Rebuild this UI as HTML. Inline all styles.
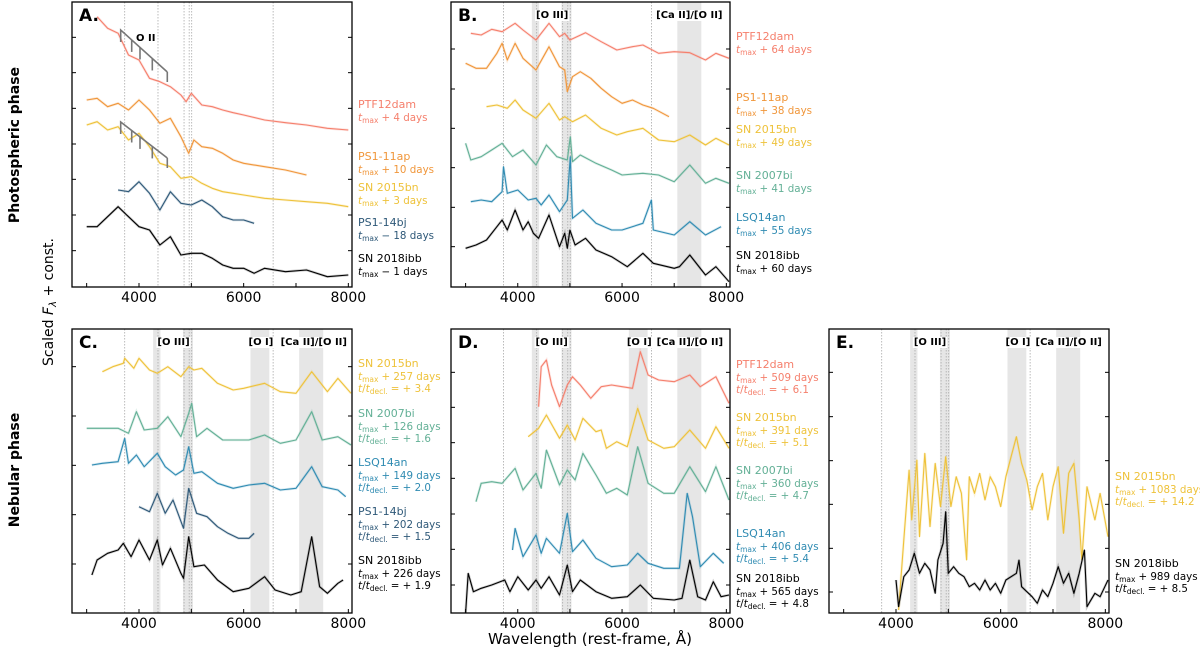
<!DOCTYPE html>
<html><head><meta charset="utf-8">
<style>
html,body{margin:0;padding:0;background:#fff;}
svg{display:block;font-family:"DejaVu Sans","Liberation Sans",sans-serif;}
</style></head>
<body>
<svg id="fig" width="1200" height="653" viewBox="0 0 1200 653" xmlns="http://www.w3.org/2000/svg">
<text transform="translate(19,145) rotate(-90)" text-anchor="middle" font-size="14" font-weight="bold">Photospheric phase</text>
<text transform="translate(19,470) rotate(-90)" text-anchor="middle" font-size="14" font-weight="bold">Nebular phase</text>
<text transform="translate(53,302) rotate(-90)" text-anchor="middle" font-size="14">Scaled <tspan font-style="italic">F</tspan><tspan font-size="10" dy="3" font-style="italic">λ</tspan><tspan dy="-3"> + const.</tspan></text>
<text x="590" y="644" text-anchor="middle" font-size="15">Wavelength (rest-frame, Å)</text>
<g id="plots"></g>
</svg>
<script>
// ---- data: wavelengths (Å) and scaled flux (arbitrary units) ----
const xTicks=[3000,4000,5000,6000,7000,8000];
const xTickLabels=[4000,6000,8000];
const lineWaves=[3727,4363,4861,4959,5007,6563];
const bandsB=[[4270,4410],[4840,5030],[7060,7520]];
const bandsNeb=[[4270,4410],[4840,5030],[6130,6490],[7060,7520]];
const yTicksA=[7.49,6.43,5.36,4.29,3.23,2.16,1.09];
const yTicksB=[7.14,5.94,4.76,3.58,2.39,1.21];
const yTicksC=[7.39,5.91,4.43,2.95,1.47];
const yTicksD=[7.22,6.17,5.11,4.04,2.97,1.91,0.84];
const yTicksE=[7.22,5.89,4.57,3.26,1.94,0.63];

const A_ptf_lam=[3200,3400,3600,3800,4000,4200,4400,4600,4800,4900,5000,5200,5400,5600,5800,6000,6400,6800,7200,7600,8000];
const A_ptf_flux=[8.11,7.76,7.61,6.96,6.81,6.26,6.16,6.01,5.76,5.56,5.81,5.46,5.41,5.31,5.23,5.16,5.01,4.93,4.86,4.76,4.71];
const A_11ap_lam=[3000,3200,3400,3600,3800,4000,4200,4400,4600,4800,4950,5050,5200,5400,5600,5800,6000,6400,6800,7200];
const A_11ap_flux=[5.61,5.66,5.41,5.51,5.31,5.61,5.31,4.91,5.06,4.51,4.01,4.41,4.21,4.16,4.01,3.81,3.71,3.61,3.51,3.36];
const A_15bn_lam=[3000,3200,3400,3600,3800,4000,4200,4400,4600,4800,5000,5200,5400,5600,5800,6000,6400,6800,7200,7600,8000];
const A_15bn_flux=[4.86,4.96,4.71,4.81,4.41,4.61,4.21,3.71,3.61,3.26,3.31,3.11,2.96,2.86,2.81,2.76,2.66,2.61,2.56,2.51,2.41];
const A_14bj_lam=[3600,3800,4000,4200,4400,4600,4800,5000,5200,5400,5600,5800,6000,6200];
const A_14bj_flux=[2.91,2.86,3.16,2.81,2.31,2.86,2.51,2.46,2.61,2.41,2.11,2.01,2.01,1.91];
const A_18ibb_lam=[3000,3200,3400,3600,3800,4000,4200,4400,4600,4800,5000,5200,5400,5600,5800,6000,6200,6400,6800,7200,7600,8000];
const A_18ibb_flux=[1.81,1.81,2.11,2.41,2.11,1.81,1.71,1.26,1.51,0.96,1.01,1.01,0.86,0.66,0.56,0.56,0.41,0.56,0.46,0.51,0.31,0.36];

const B_ptf_lam=[3100,3300,3500,3700,3950,4100,4350,4600,4800,4900,5000,5300,5600,5900,6200,6400,6700,7000,7300,7600,7800,8050];
const B_ptf_flux=[7.61,7.56,7.73,7.66,7.91,7.71,7.41,7.91,7.51,7.61,7.41,7.63,7.36,7.11,7.21,7.26,7.01,7.06,7.03,6.81,7.01,6.86];
const B_11ap_lam=[3000,3200,3400,3600,3700,3800,3950,4100,4350,4600,4800,4900,4950,5050,5200,5400,5600,5800,6000,6200,6400,6600,6900];
const B_11ap_flux=[6.71,6.56,6.56,7.01,7.31,6.81,7.31,6.86,6.51,7.21,6.61,6.51,5.86,6.31,6.46,6.26,5.96,5.71,5.51,5.61,5.46,5.36,5.11];
const B_15bn_lam=[3400,3600,3800,3950,4100,4350,4600,4800,4900,5050,5300,5600,5900,6100,6400,6700,7000,7300,7600,7800,8050];
const B_15bn_flux=[5.41,5.46,5.36,5.61,5.31,5.06,5.51,5.01,5.11,4.96,5.16,4.76,4.56,4.66,4.76,4.41,4.36,4.56,4.26,4.46,4.26];
const B_07bi_lam=[3000,3100,3300,3500,3700,3900,4100,4350,4550,4750,4950,5007,5050,5200,5500,5800,6000,6400,6700,7000,7300,7600,7800,8050];
const B_07bi_flux=[4.31,3.81,3.91,4.11,4.31,3.91,4.11,3.66,4.26,3.91,3.81,4.51,3.76,3.96,3.71,3.51,3.36,3.41,3.36,3.16,3.66,3.11,3.26,3.11];
const B_lsq_lam=[3100,3300,3500,3700,3727,3800,4000,4200,4350,4450,4600,4800,4950,5007,5050,5250,5500,5800,6000,6400,6563,6600,7000,7300,7600,7900];
const B_lsq_flux=[2.56,2.61,2.56,2.86,3.61,2.81,2.91,2.61,2.66,2.46,2.76,2.26,2.61,3.91,2.06,2.31,1.91,1.71,1.71,1.91,2.61,1.71,1.56,1.96,1.56,1.81];
const B_18ibb_lam=[3000,3200,3400,3600,3700,3800,3950,4100,4200,4300,4400,4600,4800,4900,4950,5000,5100,5300,5500,5800,6100,6400,6600,7000,7100,7300,7600,7800,8050];
const B_18ibb_flux=[1.16,1.26,1.41,1.81,2.01,1.71,2.31,1.71,1.96,1.61,1.46,2.16,1.21,1.61,1.16,1.71,1.26,1.46,1.11,0.91,0.61,1.01,0.71,0.56,0.61,0.96,0.36,0.61,0.16];

const C_15bn_lam=[3300,3500,3700,3727,3900,4000,4200,4350,4550,4800,4950,5050,5200,5500,5800,6000,6400,6700,7000,7300,7600,7800,8050];
const C_15bn_flux=[7.24,7.39,7.49,7.64,7.34,7.64,7.29,7.19,7.39,7.09,7.39,7.29,7.34,6.89,6.69,6.74,6.89,6.64,6.59,7.24,6.64,7.04,6.59];
const C_07bi_lam=[3000,3300,3600,3800,3950,4100,4350,4550,4800,4950,5007,5100,5300,5600,5900,6100,6400,6700,7000,7300,7500,7800,8050];
const C_07bi_flux=[5.54,5.54,5.54,5.39,6.04,5.49,5.54,5.89,5.29,5.99,6.29,5.29,5.54,5.19,5.19,5.19,5.34,5.09,5.19,6.04,5.19,5.29,5.04];
const C_lsq_lam=[3100,3300,3600,3727,3800,3950,4100,4350,4500,4700,4850,4950,5050,5200,5500,5800,6100,6400,6700,7000,7300,7500,7800,7950];
const C_lsq_flux=[4.44,4.49,4.54,5.24,4.49,4.74,4.39,4.79,4.39,4.14,4.29,4.99,4.19,4.24,3.89,3.74,3.84,3.89,3.69,3.74,4.39,3.79,3.69,3.49];
const C_14bj_lam=[4000,4200,4350,4500,4650,4850,4950,5100,5300,5500,5700,5900,6100,6200];
const C_14bj_flux=[3.19,3.04,3.59,2.99,3.39,2.54,3.74,2.99,2.89,2.59,2.39,2.24,2.24,2.39];
const C_18ibb_lam=[3100,3200,3400,3600,3700,3850,4000,4200,4350,4450,4600,4800,4850,4950,5050,5250,5500,5800,6100,6400,6600,6900,7100,7300,7450,7600,7800,7900];
const C_18ibb_flux=[1.14,1.59,1.79,1.89,2.09,1.69,2.19,1.59,2.19,1.44,1.94,1.19,1.04,2.29,1.39,1.44,0.99,0.64,0.74,1.09,0.69,0.54,0.64,2.29,0.79,0.59,0.89,0.99];

const D_ptf_lam=[4400,4450,4550,4650,4800,4950,5050,5200,5400,5600,5800,6000,6200,6350,6500,6700,7000,7300,7500,7800,8050];
const D_ptf_flux=[6.19,7.39,7.59,6.84,6.19,6.84,7.09,6.84,6.44,6.79,6.84,6.79,6.74,7.84,7.14,6.99,6.94,7.14,6.79,7.09,6.29];
const D_15bn_lam=[4200,4400,4550,4800,4950,5100,5250,5500,5600,5700,5900,6100,6300,6500,6800,7000,7300,7600,7800,8050];
const D_15bn_flux=[5.29,5.54,5.94,5.24,5.64,5.19,5.84,5.44,5.49,4.94,5.14,4.99,6.14,5.19,4.94,4.99,5.49,4.94,5.59,4.94];
const D_07bi_lam=[3200,3300,3500,3700,3950,4100,4350,4450,4550,4800,4950,5100,5250,5500,5700,5900,6100,6300,6500,6800,7000,7300,7600,7800,8050];
const D_07bi_flux=[3.34,3.89,3.94,3.89,4.34,3.69,4.19,3.74,4.89,3.84,4.29,3.99,4.79,4.14,3.59,3.74,3.54,4.99,3.89,3.59,3.59,4.39,3.64,4.39,3.39];
const D_lsq_lam=[3900,3950,4100,4350,4450,4550,4800,4950,5050,5250,5500,5800,6100,6300,6500,6800,7100,7250,7350,7500,7750,7950];
const D_lsq_flux=[1.89,2.54,1.69,2.34,1.79,2.24,1.79,2.99,1.84,2.19,1.64,1.39,1.44,1.79,1.49,1.34,1.34,3.59,2.89,1.39,1.79,1.49];
const D_18ibb_lam=[3000,3050,3150,3300,3500,3750,3850,4000,4200,4350,4450,4600,4800,4950,5050,5200,5500,5800,6100,6350,6600,7000,7150,7300,7450,7600,7750,7900,8050];
const D_18ibb_flux=[0.00,1.19,0.64,0.74,0.84,0.99,0.64,1.09,0.69,0.99,0.74,1.09,0.54,1.44,0.64,0.99,0.64,0.44,0.49,0.84,0.44,0.39,0.44,1.59,0.49,0.39,0.94,0.49,0.54];

const E_15bn_lam=[4050,4150,4250,4300,4400,4450,4550,4650,4750,4850,4950,5050,5150,5250,5350,5400,5500,5600,5700,5800,5900,6000,6100,6200,6300,6400,6500,6600,6700,6800,6900,7000,7100,7200,7300,7400,7500,7550,7650,7800,7900,8050];
const E_15bn_flux=[0.09,2.19,4.29,2.79,4.59,2.29,4.79,2.59,4.49,3.19,4.69,3.19,4.09,3.59,1.59,4.09,3.59,4.19,3.39,4.09,3.79,3.19,4.09,4.69,5.29,4.49,3.99,3.09,3.79,4.19,2.79,3.79,4.39,2.39,4.19,4.49,2.79,1.59,3.79,2.79,3.59,2.29];
const E_18ibb_lam=[4000,4050,4150,4250,4350,4450,4550,4650,4750,4800,4900,4950,5000,5100,5200,5300,5400,5500,5600,5700,5800,5900,6000,6100,6300,6350,6400,6600,6700,6800,6900,7000,7100,7200,7300,7400,7500,7600,7650,7800,7900,8050];
const E_18ibb_flux=[0.99,0.19,1.09,1.29,1.79,1.19,1.49,1.29,0.59,1.59,2.09,3.04,1.19,1.39,1.19,1.09,0.79,0.89,0.69,0.99,0.69,0.89,0.59,0.99,1.19,1.59,0.79,0.49,0.29,0.69,0.49,0.89,1.39,0.89,1.19,0.59,1.19,1.89,0.19,0.59,0.49,0.99];

// ---- rendering ----
const NS='http://www.w3.org/2000/svg';
const C={ptf:'#f57f6c',ap:'#f0963a',bn:'#eec23a',bj:'#2e5878',bi:'#63b096',lsq:'#2f8bb2',ibb:'#000'};
const panels=[
 {id:'a',letter:'A.',x0:72,x1:352,yb:287,yt:2,ticks:yTicksA,bands:[],bandLabels:[],
  series:[[A_ptf_lam,A_ptf_flux,C.ptf,'ptf12dam'],[A_11ap_lam,A_11ap_flux,C.ap,'ps1-11ap'],[A_15bn_lam,A_15bn_flux,C.bn,'sn2015bn'],[A_14bj_lam,A_14bj_flux,C.bj,'ps1-14bj'],[A_18ibb_lam,A_18ibb_flux,C.ibb,'sn2018ibb']],
  labels:[['PTF12dam','+ 4 days',null,C.ptf,104],['PS1-11ap','+ 10 days',null,C.ap,156],['SN 2015bn','+ 3 days',null,C.bn,187],['PS1-14bj','− 18 days',null,C.bj,222],['SN 2018ibb','− 1 days',null,C.ibb,258]]},
 {id:'b',letter:'B.',x0:451,x1:730,yb:287,yt:2,ticks:yTicksB,bands:bandsB,bandLabels:[['[O III]',4660],['[Ca II]/[O II]',7290]],
  series:[[B_ptf_lam,B_ptf_flux,C.ptf,'ptf12dam'],[B_11ap_lam,B_11ap_flux,C.ap,'ps1-11ap'],[B_15bn_lam,B_15bn_flux,C.bn,'sn2015bn'],[B_07bi_lam,B_07bi_flux,C.bi,'sn2007bi'],[B_lsq_lam,B_lsq_flux,C.lsq,'lsq14an'],[B_18ibb_lam,B_18ibb_flux,C.ibb,'sn2018ibb']],
  labels:[['PTF12dam','+ 64 days',null,C.ptf,36],['PS1-11ap','+ 38 days',null,C.ap,97],['SN 2015bn','+ 49 days',null,C.bn,129],['SN 2007bi','+ 41 days',null,C.bi,175],['LSQ14an','+ 55 days',null,C.lsq,217],['SN 2018ibb','+ 60 days',null,C.ibb,255]]},
 {id:'c',letter:'C.',x0:72,x1:352,yb:613,yt:329,ticks:yTicksC,bands:bandsNeb,bandLabels:[['[O III]',4660],['[O I]',6330],['[Ca II]/[O II]',7340]],
  series:[[C_15bn_lam,C_15bn_flux,C.bn,'sn2015bn'],[C_07bi_lam,C_07bi_flux,C.bi,'sn2007bi'],[C_lsq_lam,C_lsq_flux,C.lsq,'lsq14an'],[C_14bj_lam,C_14bj_flux,C.bj,'ps1-14bj'],[C_18ibb_lam,C_18ibb_flux,C.ibb,'sn2018ibb']],
  labels:[['SN 2015bn','+ 257 days','+ 3.4',C.bn,363],['SN 2007bi','+ 126 days','+ 1.6',C.bi,413],['LSQ14an','+ 149 days','+ 2.0',C.lsq,462],['PS1-14bj','+ 202 days','+ 1.5',C.bj,511],['SN 2018ibb','+ 226 days','+ 1.9',C.ibb,560]]},
 {id:'d',letter:'D.',x0:451,x1:730,yb:613,yt:329,ticks:yTicksD,bands:bandsNeb,bandLabels:[['[O III]',4650],['[O I]',6330],['[Ca II]/[O II]',7300]],
  series:[[D_ptf_lam,D_ptf_flux,C.ptf,'ptf12dam'],[D_15bn_lam,D_15bn_flux,C.bn,'sn2015bn'],[D_07bi_lam,D_07bi_flux,C.bi,'sn2007bi'],[D_lsq_lam,D_lsq_flux,C.lsq,'lsq14an'],[D_18ibb_lam,D_18ibb_flux,C.ibb,'sn2018ibb']],
  labels:[['PTF12dam','+ 509 days','+ 6.1',C.ptf,364],['SN 2015bn','+ 391 days','+ 5.1',C.bn,417],['SN 2007bi','+ 360 days','+ 4.7',C.bi,470],['LSQ14an','+ 406 days','+ 5.4',C.lsq,533],['SN 2018ibb','+ 565 days','+ 4.8',C.ibb,578]]},
 {id:'e',letter:'E.',x0:829,x1:1109,yb:613,yt:329,ticks:yTicksE,bands:bandsNeb,bandLabels:[['[O III]',4650],['[O I]',6330],['[Ca II]/[O II]',7300]],
  series:[[E_15bn_lam,E_15bn_flux,C.bn,'sn2015bn'],[E_18ibb_lam,E_18ibb_flux,C.ibb,'sn2018ibb']],
  labels:[['SN 2015bn','+ 1083 days','+ 14.2',C.bn,476],['SN 2018ibb','+ 989 days','+ 8.5',C.ibb,563]]}
];
const LMIN=2720,LMAX=8070,YS=100/3;
function el(tag,attrs,parent){const e=document.createElementNS(NS,tag);for(const k in attrs)e.setAttribute(k,attrs[k]);parent.appendChild(e);return e;}
const root=document.getElementById('plots');
panels.forEach(p=>{
  const sx=l=>p.x0+(l-LMIN)/(LMAX-LMIN)*(p.x1-p.x0);
  const sy=f=>p.yb-f*YS;
  const g=el('g',{},root);
  
  
  const cid='clip-'+p.id;
  const cp=el('clipPath',{id:cid},g);el('rect',{x:p.x0,y:p.yt,width:p.x1-p.x0,height:p.yb-p.yt},cp);
  p.bands.forEach(b=>{const r=el('rect',{x:sx(b[0]),y:p.yt,width:sx(b[1])-sx(b[0]),height:p.yb-p.yt,fill:'#e6e6e6'},g);
    
    });
  lineWaves.forEach(w=>{const l=el('line',{x1:sx(w),x2:sx(w),y1:p.yt,y2:p.yb,stroke:'#aaa','stroke-width':0.8,'stroke-dasharray':'1.5,1.5'},g);
    
    });
  const sg=el('g',{'clip-path':'url(#'+cid+')'},g);
  p.series.forEach(s=>{
    const d=s[0].map((l,i)=>(i?'L':'M')+sx(l).toFixed(1)+','+sy(s[1][i]).toFixed(1)).join('');
    const u=el('path',{d:d,fill:'none',stroke:s[2],'stroke-width':2.6,'stroke-opacity':0.2},sg);
    
    
    const pa=el('path',{d:d,fill:'none',stroke:s[2],'stroke-width':1.1,'stroke-linejoin':'round'},sg);
    
    
  });
  p.bandLabels.forEach(b=>{
    const t=el('text',{x:sx(b[1]),y:p.yt+16,'text-anchor':'middle','font-size':10,'font-weight':'bold'},g);
    t.textContent=b[0];
    
    
    const bb=t.getBBox();
    const r=document.createElementNS(NS,'rect');
    r.setAttribute('x',bb.x-1);r.setAttribute('y',bb.y);r.setAttribute('width',bb.width+2);r.setAttribute('height',bb.height);r.setAttribute('fill','#fff');
    g.insertBefore(r,t);
  });
  const fr=el('rect',{x:p.x0,y:p.yt,width:p.x1-p.x0,height:p.yb-p.yt,fill:'none',stroke:'#000','stroke-width':1.3},g);
  
  
  const lt=el('text',{x:p.x0+7,y:p.yt+19,'font-size':17,'font-weight':'bold'},g);
  lt.textContent=p.letter;
  
  
  p.ticks.forEach(v=>{
    el('line',{x1:p.x0,x2:p.x0+4,y1:sy(v),y2:sy(v),stroke:'#000','stroke-width':1},g);
    el('line',{x1:p.x1-4,x2:p.x1,y1:sy(v),y2:sy(v),stroke:'#000','stroke-width':1},g);
  });
  xTicks.forEach(v=>{el('line',{x1:sx(v),x2:sx(v),y1:p.yb,y2:p.yb-4,stroke:'#000','stroke-width':1},g);});
  xTickLabels.forEach(v=>{
    const t=el('text',{x:sx(v),y:p.yb+15,'text-anchor':'middle','font-size':14},g);
    t.textContent=v;
    
    
  });
  p.labels.forEach(L=>{
    const t=el('text',{x:p.x1+6,y:L[4]+4,'font-size':11,fill:L[3]},g);
    
    
    t.innerHTML='<tspan x="'+(p.x1+6)+'">'+L[0]+'</tspan>'+
      '<tspan x="'+(p.x1+6)+'" dy="13" font-style="italic" font-size="10.5">t</tspan><tspan font-size="7.5" dy="2">max</tspan><tspan dy="-2" dx="3" font-size="10.3">'+L[1]+'</tspan>'+
      (L[2]?'<tspan x="'+(p.x1+6)+'" dy="12" font-style="italic" font-size="10.5">t</tspan><tspan font-size="10.5">/</tspan><tspan font-style="italic" font-size="10.5">t</tspan><tspan font-size="7.5" dy="2">decl.</tspan><tspan dy="-2" dx="3" font-size="10.3">= '+L[2]+'</tspan>':'');
  });
});
// O II markers panel A
const oii=document.createElementNS(NS,'g');


root.appendChild(oii);
[[30,72],[122,158]].forEach(m=>{
  const y0=m[0],y1=m[1];
  el('path',{d:'M120.7,'+(y0+12)+'L120.7,'+y0+'L167.3,'+y1,fill:'none',stroke:'#777','stroke-width':1.6},oii);
  [131.7,140,152.3].forEach(x=>{const yy=y0+(x-120.7)/(167.3-120.7)*(y1-y0);el('line',{x1:x,x2:x,y1:yy,y2:yy+12,stroke:'#777','stroke-width':1.6},oii);});
  el('line',{x1:167.3,x2:167.3,y1:y1,y2:y1+10,stroke:'#777','stroke-width':1.6},oii);
});
const ot=el('text',{x:136,y:41,'font-size':10,'font-weight':'bold'},root);
ot.textContent='O II';


</script>
</body></html>
